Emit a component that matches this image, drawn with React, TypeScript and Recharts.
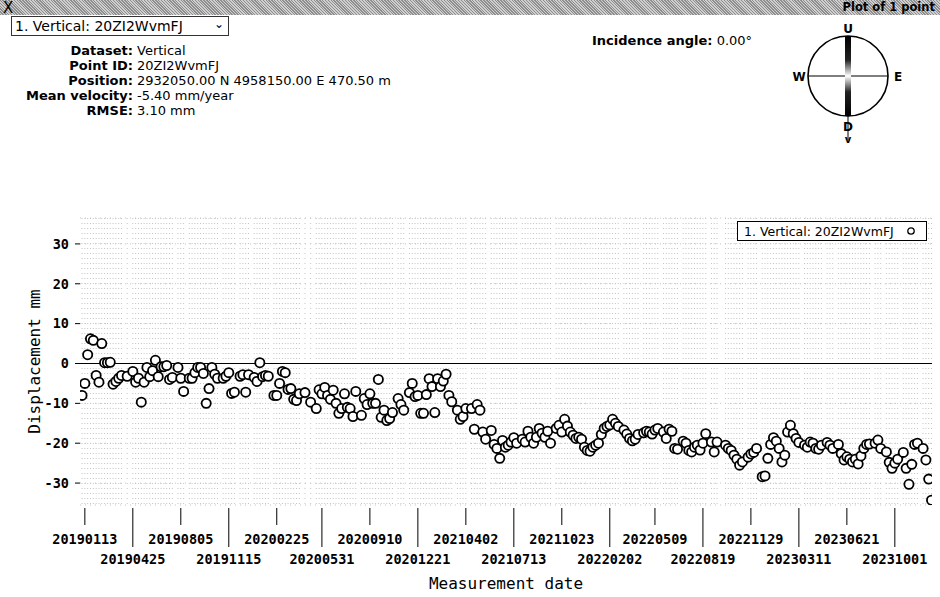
import React from "react";
import {
  ScatterChart,
  Scatter,
  XAxis,
  YAxis,
  CartesianGrid,
  ReferenceLine,
  Legend,
} from "recharts";

// acquisition number on the 6-day repeat cycle, counted from 2019-01-07
const cycle = [
  0, 1, 2, 3, 4, 5, 6, 7, 8, 9, 10, 11, 12, 13, 14, 16, 18, 19, 20, 21, 22, 23, 24, 25, 26, 27, 28, 29, 30,
  31, 32, 34, 35, 36, 38, 39, 40, 41, 42, 43, 44, 45, 46, 47, 48, 50, 51, 52, 53, 54, 56, 57, 58, 59, 61,
  62, 63, 64, 65, 66, 68, 69, 70, 71, 72, 73, 74, 75, 76, 77, 79, 81, 83, 84, 85, 86, 87, 88, 89, 90, 91,
  92, 93, 94, 95, 96, 97, 99, 100, 101, 102, 103, 104, 105, 106, 107, 108, 109, 110, 112, 113, 114, 116,
  117, 118, 119, 120, 121, 122, 123, 124, 125, 126, 127, 128, 129, 130, 131, 133, 134, 135, 136, 138, 139,
  140, 141, 142, 143, 145, 146, 147, 148, 149, 150, 151, 152, 153, 154, 156, 157, 158, 159, 160, 161, 162,
  163, 164, 165, 166, 168, 169, 170, 171, 172, 173, 174, 175, 176, 177, 178, 179, 180, 181, 182, 183, 184,
  185, 186, 187, 188, 189, 190, 192, 193, 194, 195, 196, 197, 199, 200, 201, 202, 203, 204, 206, 207, 208,
  209, 210, 211, 213, 214, 215, 216, 217, 218, 219, 220, 221, 223, 224, 225, 228, 229, 230, 231, 232, 233,
  234, 236, 237, 238, 239, 241, 242, 243, 244, 245, 246, 247, 248, 249, 250, 251, 252, 253, 254, 256, 257,
  258, 259, 260, 261, 262, 264, 265, 266, 268, 269, 270, 271, 272, 273, 274, 275, 276, 277, 278, 279, 281,
  282, 283, 285, 286, 287, 288, 289, 291, 292, 293, 294, 295, 296, 298, 299, 300, 301,
];

// vertical displacement, mm
const displacement = [
  -8, -5, 2.2, 6.2, 5.8, -3, -4.7, 5, 0.2, 0.2, 0.3, -5.2, -4.5, -3.7, -3, -3.2, -2, -4.7, -3.7, -9.7, -4.7,
  -1, -3.3, -1.8, 0.8, -3.3, -0.8, -0.8, -0.5, -4, -3.5, -1, -3.7, -7, -3.7, -3.7, -2.3, -1, -1, -2.5, -10,
  -6.3, -1, -2.7, -3.7, -3.7, -3.2, -2.3, -7.5, -7.2, -3.2, -2.8, -7.2, -2.8, -3.5, -4.5, 0.2, -3.3, -3,
  -3.2, -8, -8, -5, -2, -2.3, -6.5, -6.3, -9, -9.3, -7.6, -7.3, -9.7, -11.3, -6.6, -7.6, -6, -8, -9, -6.7,
  -10, -12.5, -11.3, -7.6, -11, -11.3, -13.3, -7, -13, -8.8, -10.3, -7.6, -10, -10, -4, -13.5, -11.7,
  -14.3, -13.8, -12.3, -8.8, -10.3, -11.7, -7.3, -5, -8.3, -8, -12.5, -12.5, -7.8, -3.8, -5.8, -12.3, -3.8,
  -5.8, -4.4, -2.7, -8, -9.6, -11.7, -14, -13.3, -11.3, -11.3, -16.5, -10.3, -11.7, -17.2, -19, -16.8,
  -20.3, -21.3, -23.8, -19.3, -21, -20.5, -19.7, -18.6, -20, -19, -19.7, -17, -18.5, -20, -18.5, -16.3,
  -17.5, -18.5, -17, -20, -16.3, -15.5, -17.2, -14, -15.7, -17.2, -18, -18.8, -18.5, -19, -21, -21.8, -22,
  -21, -20.5, -20, -17.8, -16.3, -15.8, -15.4, -14, -15, -15.8, -16.7, -17.7, -18.8, -19.4, -19, -17.8,
  -17.4, -17, -17.2, -17.7, -16.7, -16.3, -17.2, -18.8, -16.5, -17, -21.3, -21.5, -19.5, -20, -21.8, -22.2,
  -21, -20.5, -21.7, -20, -17.6, -19.7, -22.2, -19.7, -20.5, -21.3, -21.8, -23, -24, -25.5, -24.7, -23.5,
  -22.7, -22.3, -21.3, -28.4, -28.2, -23.8, -20.3, -18.6, -19.5, -21.3, -24.7, -23, -17.2, -15.5, -17.6,
  -18.8, -19.8, -20.5, -21, -19.7, -20, -21.3, -21.5, -20.5, -19.8, -20.5, -21.3, -20.3, -22.6, -24.2,
  -23.4, -24, -24.7, -24, -25.2, -23.2, -21.3, -20.3, -20.2, -20, -19.2, -21.3, -22.2, -24.8, -26.3, -25,
  -24, -22.3, -26.3, -30.3, -25.3, -20.3, -20, -21.3, -24.2, -29, -34.3,
];

const tickLabels = [
  "20190113", "20190425", "20190805", "20191115", "20200225", "20200531", "20200910", "20201221",
  "20210402", "20210713", "20211023", "20220202", "20220509", "20220819", "20221129", "20230311",
  "20230621", "20231001",
];

const yTicks = [-30, -20, -10, 0, 10, 20, 30];

const START = Date.UTC(2019, 0, 7);
const DAY = 86400000;
const toDay = (s: string) =>
  (Date.UTC(+s.slice(0, 4), +s.slice(4, 6) - 1, +s.slice(6, 8)) - START) / DAY;

const data = cycle.map((c, i) => ({ day: c * 6, disp: displacement[i] }));
const tickDays = tickLabels.map(toDay);
const labelByDay: Record<number, string> = {};
tickDays.forEach((d, i) => (labelByDay[d] = tickLabels[i]));

const MONO = '"DejaVu Sans Mono", monospace';
const SANS = '"DejaVu Sans", Verdana, sans-serif';

const DateTick = (props: any) => {
  const { x, y, payload, index } = props;
  const low = index % 2 === 1;
  return (
    <g>
      <line x1={x} x2={x} y1={y + 3} y2={y + (low ? 42 : 20)} stroke="#000" strokeWidth={1} />
      <text
        x={x}
        y={y + (low ? 59 : 39)}
        textAnchor="middle"
        fontFamily={MONO}
        fontWeight="bold"
        fontSize={13.5}
        fill="#000"
      >
        {labelByDay[payload.value]}
      </text>
    </g>
  );
};

const Ring = (props: any) => {
  const { cx, cy } = props;
  if (cx == null || cy == null) return null;
  return <circle cx={cx} cy={cy} r={4.6} fill="#fff" stroke="#000" strokeWidth={1.8} />;
};

const LegendBox = () => (
  <div
    style={{
      border: "1.5px solid #000",
      background: "#fff",
      height: 20,
      width: 190,
      display: "flex",
      alignItems: "center",
      fontFamily: SANS,
      fontSize: 12.5,
      paddingLeft: 6,
      boxSizing: "border-box",
    }}
  >
    <span>1. Vertical: 20ZI2WvmFJ</span>
    <svg width={14} height={10} style={{ marginLeft: 10 }}>
      <circle cx={7} cy={5} r={3.2} fill="#fff" stroke="#000" strokeWidth={1.3} />
    </svg>
  </div>
);

const infoRows = [
  ["Dataset:", "Vertical"],
  ["Point ID:", "20ZI2WvmFJ"],
  ["Position:", "2932050.00 N 4958150.00 E 470.50 m"],
  ["Mean velocity:", "-5.40 mm/year"],
  ["RMSE:", "3.10 mm"],
];

const Compass = () => (
  <svg width={160} height={160} style={{ position: "absolute", left: 780, top: 0 }}>
    <defs>
      <linearGradient id="ud" x1="0" y1="0" x2="0" y2="1">
        <stop offset="0" stopColor="#000" />
        <stop offset="0.3" stopColor="#222" />
        <stop offset="0.5" stopColor="#fff" />
        <stop offset="0.7" stopColor="#222" />
        <stop offset="1" stopColor="#000" />
      </linearGradient>
    </defs>
    <circle cx={68} cy={76} r={40} fill="#fff" stroke="#000" strokeWidth={1.6} />
    <line x1={28} x2={108} y1={76} y2={76} stroke="#000" strokeWidth={1.2} />
    <rect x={65} y={36} width={6} height={80} fill="url(#ud)" />
    <line x1={68} x2={68} y1={116} y2={140} stroke="#000" strokeWidth={1} />
    <g fontFamily={SANS} fontWeight="bold" fontSize={12} textAnchor="middle" fill="#000">
      <text x={68} y={33}>U</text>
      <text x={19} y={81}>W</text>
      <text x={118} y={81}>E</text>
      <text x={68} y={131}>D</text>
      <text x={68} y={143} fontSize={10}>v</text>
    </g>
  </svg>
);

export default function App() {
  return (
    <div
      style={{
        position: "absolute",
        left: 0,
        top: 0,
        width: 940,
        height: 597,
        background: "#fff",
        overflow: "hidden",
      }}
    >
      <ScatterChart width={940} height={597} margin={{ top: 198, right: 8, bottom: 0, left: 0 }}>
        <CartesianGrid
          stroke="#c4c4c4"
          strokeDasharray="1 4"
          verticalValues={data.map((d) => d.day)}
        />
        <XAxis
          type="number"
          dataKey="day"
          domain={[-4.3, 1807]}
          ticks={tickDays}
          interval={0}
          allowDataOverflow
          axisLine={false}
          tickLine={false}
          tickSize={0}
          tickMargin={0}
          height={92}
          tick={<DateTick />}
          label={(p: any) => {
            const vb = p.viewBox || { x: 80, y: 505, width: 852 };
            return (
              <text
                x={vb.x + vb.width / 2}
                y={589}
                textAnchor="middle"
                fontFamily={MONO}
                fontSize={16}
                fill="#000"
              >
                Measurement date
              </text>
            );
          }}
        />
        <YAxis
          type="number"
          dataKey="disp"
          domain={[-35.5, 36.5]}
          ticks={yTicks}
          interval={0}
          allowDataOverflow
          width={80}
          axisLine={false}
          tickSize={5}
          tickMargin={6}
          tickLine={{ stroke: "#000" }}
          tick={{ fontFamily: MONO, fontWeight: "bold", fontSize: 13.5, fill: "#000" }}
          label={(p: any) => {
            const vb = p.viewBox || { y: 218, height: 287 };
            const cy = vb.y + vb.height / 2;
            return (
              <text
                x={40}
                y={cy}
                transform={`rotate(-90 40 ${cy})`}
                textAnchor="middle"
                fontFamily={MONO}
                fontSize={16}
                fill="#000"
              >
                Displacement mm
              </text>
            );
          }}
        />
        <ReferenceLine y={0} stroke="#000" strokeWidth={1.2} />
        <Legend
          verticalAlign="top"
          content={<LegendBox />}
          wrapperStyle={{ left: 737, top: 221, width: 190, height: 20 }}
        />
        <Scatter
          name="1. Vertical: 20ZI2WvmFJ"
          data={data}
          shape={<Ring />}
          isAnimationActive={false}
        />
      </ScatterChart>

      {/* header */}
      <div
        style={{
          position: "absolute",
          left: 0,
          top: 0,
          width: 940,
          height: 15,
          backgroundImage:
            "repeating-linear-gradient(45deg, #8e8e8e 0 1px, #cfcfcf 1px 2px)",
          fontFamily: SANS,
        }}
      >
        <span
          style={{
            position: "absolute",
            left: 3,
            top: 1,
            fontSize: 15,
            lineHeight: "15px",
            color: "#000",
          }}
        >
          X
        </span>
        <span
          style={{
            position: "absolute",
            right: 5,
            top: 0,
            fontSize: 11.5,
            lineHeight: "15px",
            fontWeight: "bold",
            color: "#000",
          }}
        >
          Plot of 1 point
        </span>
      </div>

      <div
        style={{
          position: "absolute",
          left: 11,
          top: 16,
          width: 218,
          height: 20,
          border: "1px solid #333",
          boxSizing: "border-box",
          fontFamily: SANS,
          fontSize: 14,
          lineHeight: "18px",
          paddingLeft: 3,
          color: "#000",
        }}
      >
        1. Vertical: 20ZI2WvmFJ
        <span style={{ position: "absolute", right: 4, top: -2, fontSize: 12 }}>⌄</span>
      </div>

      <div style={{ position: "absolute", left: 0, top: 43, fontFamily: SANS, fontSize: 13, color: "#000" }}>
        {infoRows.map(([k, v]) => (
          <div key={k} style={{ height: 15, lineHeight: "15px", whiteSpace: "nowrap" }}>
            <span style={{ display: "inline-block", width: 133, textAlign: "right", fontWeight: "bold" }}>{k}</span>
            <span style={{ marginLeft: 4 }}>{v}</span>
          </div>
        ))}
      </div>

      <div
        style={{
          position: "absolute",
          left: 592,
          top: 33,
          fontFamily: SANS,
          fontSize: 13,
          color: "#000",
          whiteSpace: "nowrap",
        }}
      >
        <span style={{ fontWeight: "bold" }}>Incidence angle:</span> 0.00°
      </div>

      <Compass />
    </div>
  );
}
